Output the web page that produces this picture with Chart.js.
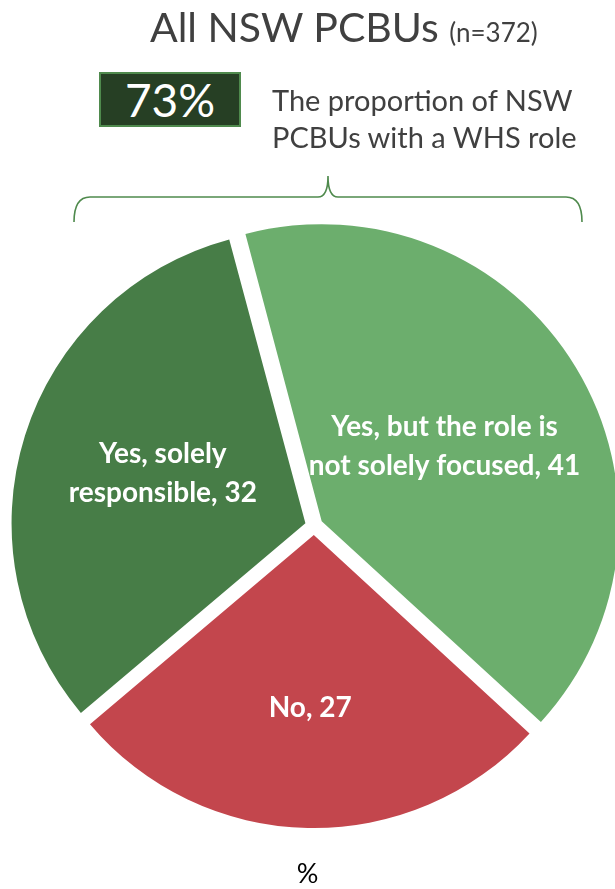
<!DOCTYPE html>
<html>
<head>
<meta charset="utf-8">
<script src="https://cdn.jsdelivr.net/npm/chart.js@4/dist/chart.umd.min.js"></script>
<style>
  html, body { margin: 0; padding: 0; background: #fff; }
  body { width: 615px; height: 889px; position: relative; overflow: hidden; font-family: Lato, "Open Sans", sans-serif; }
  #chart { position: absolute; left: 0; top: 0; }
  .title { position: absolute; left: 150px; top: 2px; color: #404040; font-size: 41px; white-space: nowrap; }
  .title small { font-size: 26px; }
  .kpi { position: absolute; left: 99px; top: 72px; width: 138px; height: 51px; background: #263f24; border: 2px solid #4f8a4d; color: #fff; font-size: 46px; line-height: 51px; text-align: center; }
  .note { position: absolute; left: 272px; top: 81px; color: #404040; font-size: 29px; line-height: 37px; white-space: nowrap; }
  .unit { position: absolute; left: 0; width: 615px; top: 856px; text-align: center; color: #000; font-size: 27px; }
  svg { position: absolute; left: 0; top: 0; }
</style>
</head>
<body>
<canvas id="chart" width="615" height="889"></canvas>
<div class="title">All NSW PCBUs <small>(n=372)</small></div>
<div class="kpi">73%</div>
<div class="note">The proportion of NSW<br>PCBUs with a WHS role</div>
<svg width="615" height="240">
  <path d="M74 222 Q74 197 90 197 L318 197 Q328 197 328 176 Q328 197 338 197 L566 197 Q582 197 582 222" fill="none" stroke="#4f8a4d" stroke-width="1.6"/>
</svg>
<div class="unit">%</div>
<script>
// Share of NSW PCBUs by WHS role type (%)
const categories = ["Yes, but the role is not solely focused", "No", "Yes, solely responsible"];
const shares = [41, 27, 32];
const labelLines = [
  ["Yes, but the role is", "not solely focused, 41"],
  ["No, 27"],
  ["Yes, solely", "responsible, 32"]
];
const sliceColors = ["#6cae6d", "#c3464d", "#477d47"];

// Chart.js moves an arc by offset / 4 pixels along its mid angle
const SLICE_OFFSET = 36;

// Writes each slice's label inside the slice, clipped to the slice itself
const sliceLabels = {
  id: "sliceLabels",
  afterDatasetsDraw(chart, args, opts) {
    const ctx = chart.ctx;
    const meta = chart.getDatasetMeta(0);
    const shift = SLICE_OFFSET / 4;
    meta.data.forEach((arc, i) => {
      const p = arc.getProps(["x", "y", "startAngle", "endAngle", "outerRadius"], true);
      const mid = (p.startAngle + p.endAngle) / 2;
      const ox = p.x + Math.cos(mid) * shift;
      const oy = p.y + Math.sin(mid) * shift;
      ctx.save();
      ctx.beginPath();
      ctx.moveTo(ox, oy);
      ctx.arc(ox, oy, p.outerRadius, p.startAngle, p.endAngle);
      ctx.closePath();
      ctx.clip();
      ctx.fillStyle = "#fff";
      ctx.font = opts.font;
      ctx.textAlign = "center";
      ctx.textBaseline = "middle";
      const r = p.outerRadius * opts.radial[i];
      const cx = ox + Math.cos(mid) * r;
      const cy = oy + Math.sin(mid) * r + opts.nudgeY[i];
      const lines = labelLines[i];
      lines.forEach((t, k) => {
        ctx.fillText(t, cx, cy + (k - (lines.length - 1) / 2) * opts.lineHeight);
      });
      ctx.restore();
    });
  }
};

new Chart(document.getElementById("chart"), {
  type: "pie",
  data: {
    labels: categories,
    datasets: [{
      data: shares,
      backgroundColor: sliceColors,
      borderWidth: 0,
      offset: SLICE_OFFSET,
      hoverOffset: 0
    }]
  },
  options: {
    responsive: false,
    animation: false,
    rotation: -15,
    radius: 293,
    layout: { padding: { left: 14, right: 1, top: 228, bottom: 65 } },
    plugins: {
      legend: { display: false },
      tooltip: { enabled: false },
      sliceLabels: {
        font: "bold 28px Lato, 'Open Sans', sans-serif",
        lineHeight: 39,
        radial: [0.49, 0.59, 0.51],
        nudgeY: [0, 0, -5]
      }
    }
  },
  plugins: [sliceLabels]
});
</script>
</body>
</html>
